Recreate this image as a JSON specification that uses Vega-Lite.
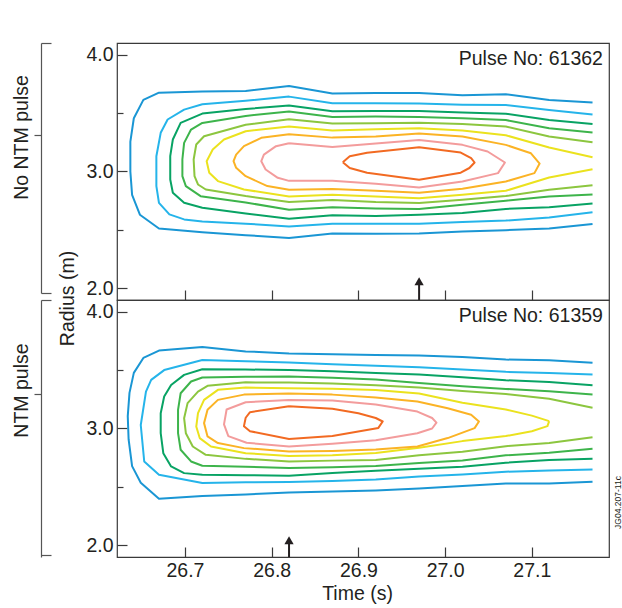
{
  "$schema": "https://vega.github.io/schema/vega-lite/v6.json",
  "padding": {"left": 10, "top": 41, "right": 2, "bottom": 52},
  "bounds": "flush",
  "spacing": 0,
  "config": {
    "view": {"stroke": "#3a3a3a", "strokeWidth": 1.2},
    "font": "Liberation Sans",
    "axis": {"labelFont": "Liberation Sans", "titleFont": "Liberation Sans", "labelFontSize": 19.5, "titleFontSize": 19.5, "labelColor": "#231f20", "titleColor": "#231f20", "titleFontWeight": "normal", "tickColor": "#3a3a3a", "tickWidth": 1.2, "domainColor": "#555555", "grid": false}
  },
  "datasets": {
    "arrows": [{"p": "top", "t": 26.97}, {"p": "bot", "t": 26.82}],
    "labels": [{"p": "top", "label": "Pulse No: 61362"}, {"p": "bot", "label": "Pulse No: 61359"}],
    "top": [
      {"c":"b1","t":27.17,"r":3.59},{"c":"b1","t":27.12,"r":3.612},{"c":"b1","t":27.07,"r":3.661},{"c":"b1","t":27.02,"r":3.652},{"c":"b1","t":26.97,"r":3.672},{"c":"b1","t":26.92,"r":3.672},{"c":"b1","t":26.87,"r":3.667},{"c":"b1","t":26.82,"r":3.732},{"c":"b1","t":26.77,"r":3.69},{"c":"b1","t":26.72,"r":3.684},{"c":"b1","t":26.67,"r":3.675},{"c":"b1","t":26.652,"r":3.613},{"c":"b1","t":26.641,"r":3.456},{"c":"b1","t":26.637,"r":3.256},{"c":"b1","t":26.637,"r":3.0},{"c":"b1","t":26.639,"r":2.8},{"c":"b1","t":26.648,"r":2.63},{"c":"b1","t":26.67,"r":2.512},{"c":"b1","t":26.72,"r":2.48},{"c":"b1","t":26.77,"r":2.455},{"c":"b1","t":26.82,"r":2.43},{"c":"b1","t":26.87,"r":2.47},{"c":"b1","t":26.92,"r":2.468},{"c":"b1","t":26.97,"r":2.47},{"c":"b1","t":27.02,"r":2.487},{"c":"b1","t":27.07,"r":2.498},{"c":"b1","t":27.12,"r":2.512},{"c":"b1","t":27.17,"r":2.55},
      {"c":"b2","t":27.17,"r":3.487},{"c":"b2","t":27.12,"r":3.527},{"c":"b2","t":27.07,"r":3.57},{"c":"b2","t":27.02,"r":3.572},{"c":"b2","t":26.97,"r":3.582},{"c":"b2","t":26.92,"r":3.584},{"c":"b2","t":26.87,"r":3.584},{"c":"b2","t":26.82,"r":3.641},{"c":"b2","t":26.77,"r":3.605},{"c":"b2","t":26.72,"r":3.576},{"c":"b2","t":26.699,"r":3.53},{"c":"b2","t":26.68,"r":3.445},{"c":"b2","t":26.672,"r":3.331},{"c":"b2","t":26.667,"r":3.131},{"c":"b2","t":26.667,"r":2.875},{"c":"b2","t":26.67,"r":2.732},{"c":"b2","t":26.682,"r":2.633},{"c":"b2","t":26.699,"r":2.59},{"c":"b2","t":26.72,"r":2.573},{"c":"b2","t":26.77,"r":2.553},{"c":"b2","t":26.82,"r":2.53},{"c":"b2","t":26.87,"r":2.552},{"c":"b2","t":26.92,"r":2.553},{"c":"b2","t":26.97,"r":2.553},{"c":"b2","t":27.02,"r":2.567},{"c":"b2","t":27.07,"r":2.58},{"c":"b2","t":27.12,"r":2.607},{"c":"b2","t":27.17,"r":2.652},
      {"c":"g1","t":27.17,"r":3.407},{"c":"g1","t":27.12,"r":3.441},{"c":"g1","t":27.07,"r":3.495},{"c":"g1","t":27.02,"r":3.506},{"c":"g1","t":26.97,"r":3.517},{"c":"g1","t":26.92,"r":3.518},{"c":"g1","t":26.87,"r":3.515},{"c":"g1","t":26.82,"r":3.564},{"c":"g1","t":26.77,"r":3.535},{"c":"g1","t":26.72,"r":3.496},{"c":"g1","t":26.695,"r":3.416},{"c":"g1","t":26.686,"r":3.274},{"c":"g1","t":26.683,"r":3.131},{"c":"g1","t":26.683,"r":2.932},{"c":"g1","t":26.686,"r":2.818},{"c":"g1","t":26.699,"r":2.732},{"c":"g1","t":26.72,"r":2.69},{"c":"g1","t":26.77,"r":2.64},{"c":"g1","t":26.82,"r":2.595},{"c":"g1","t":26.87,"r":2.625},{"c":"g1","t":26.92,"r":2.62},{"c":"g1","t":26.97,"r":2.63},{"c":"g1","t":27.02,"r":2.644},{"c":"g1","t":27.07,"r":2.68},{"c":"g1","t":27.12,"r":2.695},{"c":"g1","t":27.17,"r":2.726},
      {"c":"g2","t":27.17,"r":3.333},{"c":"g2","t":27.12,"r":3.37},{"c":"g2","t":27.07,"r":3.44},{"c":"g2","t":27.02,"r":3.456},{"c":"g2","t":26.97,"r":3.467},{"c":"g2","t":26.92,"r":3.47},{"c":"g2","t":26.87,"r":3.466},{"c":"g2","t":26.82,"r":3.513},{"c":"g2","t":26.77,"r":3.476},{"c":"g2","t":26.72,"r":3.416},{"c":"g2","t":26.707,"r":3.359},{"c":"g2","t":26.699,"r":3.245},{"c":"g2","t":26.697,"r":3.103},{"c":"g2","t":26.697,"r":2.96},{"c":"g2","t":26.701,"r":2.875},{"c":"g2","t":26.718,"r":2.789},{"c":"g2","t":26.77,"r":2.735},{"c":"g2","t":26.82,"r":2.672},{"c":"g2","t":26.87,"r":2.695},{"c":"g2","t":26.92,"r":2.684},{"c":"g2","t":26.97,"r":2.68},{"c":"g2","t":27.02,"r":2.715},{"c":"g2","t":27.07,"r":2.75},{"c":"g2","t":27.12,"r":2.786},{"c":"g2","t":27.17,"r":2.803},
      {"c":"g3","t":27.17,"r":3.25},{"c":"g3","t":27.12,"r":3.299},{"c":"g3","t":27.07,"r":3.385},{"c":"g3","t":27.02,"r":3.407},{"c":"g3","t":26.97,"r":3.418},{"c":"g3","t":26.92,"r":3.413},{"c":"g3","t":26.87,"r":3.41},{"c":"g3","t":26.82,"r":3.447},{"c":"g3","t":26.77,"r":3.4},{"c":"g3","t":26.722,"r":3.302},{"c":"g3","t":26.713,"r":3.231},{"c":"g3","t":26.71,"r":3.103},{"c":"g3","t":26.711,"r":2.96},{"c":"g3","t":26.715,"r":2.889},{"c":"g3","t":26.724,"r":2.846},{"c":"g3","t":26.77,"r":2.79},{"c":"g3","t":26.82,"r":2.738},{"c":"g3","t":26.87,"r":2.755},{"c":"g3","t":26.92,"r":2.738},{"c":"g3","t":26.97,"r":2.73},{"c":"g3","t":27.02,"r":2.758},{"c":"g3","t":27.07,"r":2.79},{"c":"g3","t":27.12,"r":2.843},{"c":"g3","t":27.17,"r":2.883},
      {"c":"y1","t":27.17,"r":3.122},{"c":"y1","t":27.12,"r":3.205},{"c":"y1","t":27.07,"r":3.31},{"c":"y1","t":27.02,"r":3.35},{"c":"y1","t":26.97,"r":3.37},{"c":"y1","t":26.92,"r":3.362},{"c":"y1","t":26.87,"r":3.35},{"c":"y1","t":26.82,"r":3.385},{"c":"y1","t":26.77,"r":3.345},{"c":"y1","t":26.745,"r":3.274},{"c":"y1","t":26.732,"r":3.188},{"c":"y1","t":26.725,"r":3.088},{"c":"y1","t":26.728,"r":2.989},{"c":"y1","t":26.738,"r":2.918},{"c":"y1","t":26.768,"r":2.846},{"c":"y1","t":26.82,"r":2.786},{"c":"y1","t":26.87,"r":2.8},{"c":"y1","t":26.92,"r":2.786},{"c":"y1","t":26.97,"r":2.772},{"c":"y1","t":27.02,"r":2.8},{"c":"y1","t":27.07,"r":2.835},{"c":"y1","t":27.12,"r":2.948},{"c":"y1","t":27.17,"r":3.02},
      {"c":"y2","t":27.07,"r":3.228},{"c":"y2","t":27.02,"r":3.299},{"c":"y2","t":26.97,"r":3.325},{"c":"y2","t":26.92,"r":3.3},{"c":"y2","t":26.87,"r":3.29},{"c":"y2","t":26.82,"r":3.319},{"c":"y2","t":26.788,"r":3.288},{"c":"y2","t":26.768,"r":3.217},{"c":"y2","t":26.759,"r":3.145},{"c":"y2","t":26.756,"r":3.088},{"c":"y2","t":26.759,"r":3.032},{"c":"y2","t":26.77,"r":2.96},{"c":"y2","t":26.795,"r":2.875},{"c":"y2","t":26.82,"r":2.843},{"c":"y2","t":26.87,"r":2.85},{"c":"y2","t":26.92,"r":2.835},{"c":"y2","t":26.97,"r":2.818},{"c":"y2","t":27.02,"r":2.852},{"c":"y2","t":27.07,"r":2.914},{"c":"y2","t":27.103,"r":2.986},{"c":"y2","t":27.109,"r":3.068},{"c":"y2","t":27.099,"r":3.156},{"c":"y2","t":27.07,"r":3.228},
      {"c":"p1","t":26.82,"r":3.242},{"c":"p1","t":26.87,"r":3.21},{"c":"p1","t":26.92,"r":3.24},{"c":"p1","t":26.97,"r":3.27},{"c":"p1","t":27.02,"r":3.228},{"c":"p1","t":27.049,"r":3.171},{"c":"p1","t":27.069,"r":3.077},{"c":"p1","t":27.061,"r":2.986},{"c":"p1","t":27.02,"r":2.914},{"c":"p1","t":26.97,"r":2.863},{"c":"p1","t":26.92,"r":2.895},{"c":"p1","t":26.87,"r":2.92},{"c":"p1","t":26.82,"r":2.92},{"c":"p1","t":26.807,"r":2.946},{"c":"p1","t":26.793,"r":3.017},{"c":"p1","t":26.788,"r":3.088},{"c":"p1","t":26.791,"r":3.145},{"c":"p1","t":26.805,"r":3.217},{"c":"p1","t":26.82,"r":3.242},
      {"c":"o1","t":26.882,"r":3.08},{"c":"o1","t":26.89,"r":3.13},{"c":"o1","t":26.91,"r":3.16},{"c":"o1","t":26.97,"r":3.208},{"c":"o1","t":27.018,"r":3.162},{"c":"o1","t":27.03,"r":3.115},{"c":"o1","t":27.034,"r":3.077},{"c":"o1","t":27.028,"r":3.03},{"c":"o1","t":27.018,"r":2.99},{"c":"o1","t":26.97,"r":2.93},{"c":"o1","t":26.91,"r":2.99},{"c":"o1","t":26.89,"r":3.03},{"c":"o1","t":26.882,"r":3.08}
    ],
    "bot": [
      {"c":"b1","t":27.17,"r":3.562},{"c":"b1","t":27.12,"r":3.584},{"c":"b1","t":27.07,"r":3.59},{"c":"b1","t":27.02,"r":3.613},{"c":"b1","t":26.97,"r":3.624},{"c":"b1","t":26.92,"r":3.63},{"c":"b1","t":26.87,"r":3.635},{"c":"b1","t":26.82,"r":3.643},{"c":"b1","t":26.77,"r":3.66},{"c":"b1","t":26.72,"r":3.698},{"c":"b1","t":26.67,"r":3.667},{"c":"b1","t":26.652,"r":3.604},{"c":"b1","t":26.641,"r":3.476},{"c":"b1","t":26.636,"r":3.305},{"c":"b1","t":26.634,"r":3.106},{"c":"b1","t":26.635,"r":2.906},{"c":"b1","t":26.639,"r":2.678},{"c":"b1","t":26.649,"r":2.536},{"c":"b1","t":26.67,"r":2.399},{"c":"b1","t":26.72,"r":2.422},{"c":"b1","t":26.77,"r":2.435},{"c":"b1","t":26.82,"r":2.452},{"c":"b1","t":26.87,"r":2.46},{"c":"b1","t":26.92,"r":2.47},{"c":"b1","t":26.97,"r":2.487},{"c":"b1","t":27.02,"r":2.508},{"c":"b1","t":27.07,"r":2.53},{"c":"b1","t":27.12,"r":2.53},{"c":"b1","t":27.17,"r":2.544},
      {"c":"b2","t":27.17,"r":3.462},{"c":"b2","t":27.12,"r":3.476},{"c":"b2","t":27.07,"r":3.485},{"c":"b2","t":27.02,"r":3.505},{"c":"b2","t":26.97,"r":3.525},{"c":"b2","t":26.92,"r":3.537},{"c":"b2","t":26.87,"r":3.55},{"c":"b2","t":26.82,"r":3.565},{"c":"b2","t":26.77,"r":3.575},{"c":"b2","t":26.72,"r":3.587},{"c":"b2","t":26.676,"r":3.5},{"c":"b2","t":26.661,"r":3.416},{"c":"b2","t":26.655,"r":3.316},{"c":"b2","t":26.649,"r":3.03},{"c":"b2","t":26.653,"r":2.718},{"c":"b2","t":26.67,"r":2.604},{"c":"b2","t":26.72,"r":2.533},{"c":"b2","t":26.77,"r":2.54},{"c":"b2","t":26.82,"r":2.541},{"c":"b2","t":26.87,"r":2.55},{"c":"b2","t":26.92,"r":2.564},{"c":"b2","t":26.97,"r":2.59},{"c":"b2","t":27.02,"r":2.607},{"c":"b2","t":27.07,"r":2.63},{"c":"b2","t":27.12,"r":2.641},{"c":"b2","t":27.17,"r":2.65},
      {"c":"g1","t":27.17,"r":3.371},{"c":"g1","t":27.12,"r":3.399},{"c":"g1","t":27.07,"r":3.413},{"c":"g1","t":27.02,"r":3.439},{"c":"g1","t":26.97,"r":3.462},{"c":"g1","t":26.92,"r":3.476},{"c":"g1","t":26.87,"r":3.49},{"c":"g1","t":26.82,"r":3.5},{"c":"g1","t":26.77,"r":3.505},{"c":"g1","t":26.72,"r":3.507},{"c":"g1","t":26.699,"r":3.459},{"c":"g1","t":26.684,"r":3.373},{"c":"g1","t":26.676,"r":3.274},{"c":"g1","t":26.672,"r":3.131},{"c":"g1","t":26.672,"r":2.96},{"c":"g1","t":26.675,"r":2.789},{"c":"g1","t":26.684,"r":2.675},{"c":"g1","t":26.699,"r":2.618},{"c":"g1","t":26.72,"r":2.604},{"c":"g1","t":26.77,"r":2.6},{"c":"g1","t":26.82,"r":2.595},{"c":"g1","t":26.87,"r":2.62},{"c":"g1","t":26.92,"r":2.638},{"c":"g1","t":26.97,"r":2.656},{"c":"g1","t":27.02,"r":2.673},{"c":"g1","t":27.07,"r":2.707},{"c":"g1","t":27.12,"r":2.73},{"c":"g1","t":27.17,"r":2.741},
      {"c":"g2","t":27.17,"r":3.291},{"c":"g2","t":27.12,"r":3.319},{"c":"g2","t":27.07,"r":3.339},{"c":"g2","t":27.02,"r":3.362},{"c":"g2","t":26.97,"r":3.39},{"c":"g2","t":26.92,"r":3.42},{"c":"g2","t":26.87,"r":3.435},{"c":"g2","t":26.82,"r":3.445},{"c":"g2","t":26.77,"r":3.443},{"c":"g2","t":26.72,"r":3.436},{"c":"g2","t":26.707,"r":3.402},{"c":"g2","t":26.695,"r":3.302},{"c":"g2","t":26.692,"r":3.16},{"c":"g2","t":26.692,"r":2.96},{"c":"g2","t":26.695,"r":2.818},{"c":"g2","t":26.707,"r":2.718},{"c":"g2","t":26.72,"r":2.681},{"c":"g2","t":26.77,"r":2.672},{"c":"g2","t":26.82,"r":2.661},{"c":"g2","t":26.87,"r":2.668},{"c":"g2","t":26.92,"r":2.678},{"c":"g2","t":26.97,"r":2.705},{"c":"g2","t":27.02,"r":2.727},{"c":"g2","t":27.07,"r":2.77},{"c":"g2","t":27.12,"r":2.792},{"c":"g2","t":27.17,"r":2.827},
      {"c":"g3","t":27.17,"r":3.177},{"c":"g3","t":27.12,"r":3.254},{"c":"g3","t":27.07,"r":3.295},{"c":"g3","t":27.02,"r":3.32},{"c":"g3","t":26.97,"r":3.35},{"c":"g3","t":26.92,"r":3.37},{"c":"g3","t":26.87,"r":3.385},{"c":"g3","t":26.82,"r":3.393},{"c":"g3","t":26.77,"r":3.395},{"c":"g3","t":26.726,"r":3.365},{"c":"g3","t":26.715,"r":3.316},{"c":"g3","t":26.703,"r":3.217},{"c":"g3","t":26.699,"r":3.088},{"c":"g3","t":26.701,"r":2.96},{"c":"g3","t":26.709,"r":2.846},{"c":"g3","t":26.724,"r":2.775},{"c":"g3","t":26.77,"r":2.74},{"c":"g3","t":26.82,"r":2.718},{"c":"g3","t":26.87,"r":2.725},{"c":"g3","t":26.92,"r":2.73},{"c":"g3","t":26.97,"r":2.77},{"c":"g3","t":27.02,"r":2.8},{"c":"g3","t":27.07,"r":2.849},{"c":"g3","t":27.12,"r":2.875},{"c":"g3","t":27.17,"r":2.926},
      {"c":"y1","t":27.12,"r":3.063},{"c":"y1","t":27.1,"r":3.11},{"c":"y1","t":27.07,"r":3.163},{"c":"y1","t":27.02,"r":3.22},{"c":"y1","t":26.97,"r":3.3},{"c":"y1","t":26.92,"r":3.33},{"c":"y1","t":26.87,"r":3.34},{"c":"y1","t":26.82,"r":3.345},{"c":"y1","t":26.77,"r":3.35},{"c":"y1","t":26.738,"r":3.331},{"c":"y1","t":26.722,"r":3.245},{"c":"y1","t":26.715,"r":3.131},{"c":"y1","t":26.713,"r":3.017},{"c":"y1","t":26.717,"r":2.918},{"c":"y1","t":26.73,"r":2.846},{"c":"y1","t":26.77,"r":2.789},{"c":"y1","t":26.82,"r":2.765},{"c":"y1","t":26.87,"r":2.77},{"c":"y1","t":26.92,"r":2.79},{"c":"y1","t":26.97,"r":2.835},{"c":"y1","t":27.02,"r":2.892},{"c":"y1","t":27.07,"r":2.935},{"c":"y1","t":27.1,"r":2.977},{"c":"y1","t":27.118,"r":3.02},{"c":"y1","t":27.12,"r":3.063},
      {"c":"y2","t":26.82,"r":3.3},{"c":"y2","t":26.87,"r":3.29},{"c":"y2","t":26.92,"r":3.265},{"c":"y2","t":26.968,"r":3.231},{"c":"y2","t":27.003,"r":3.174},{"c":"y2","t":27.03,"r":3.117},{"c":"y2","t":27.039,"r":3.06},{"c":"y2","t":27.034,"r":3.003},{"c":"y2","t":27.003,"r":2.918},{"c":"y2","t":26.968,"r":2.846},{"c":"y2","t":26.92,"r":2.82},{"c":"y2","t":26.87,"r":2.808},{"c":"y2","t":26.82,"r":2.804},{"c":"y2","t":26.768,"r":2.832},{"c":"y2","t":26.738,"r":2.875},{"c":"y2","t":26.726,"r":2.932},{"c":"y2","t":26.722,"r":3.046},{"c":"y2","t":26.726,"r":3.16},{"c":"y2","t":26.738,"r":3.245},{"c":"y2","t":26.768,"r":3.29},{"c":"y2","t":26.82,"r":3.3},
      {"c":"p1","t":26.82,"r":3.245},{"c":"p1","t":26.87,"r":3.24},{"c":"p1","t":26.92,"r":3.205},{"c":"p1","t":26.968,"r":3.145},{"c":"p1","t":26.985,"r":3.09},{"c":"p1","t":26.99,"r":3.05},{"c":"p1","t":26.985,"r":3.0},{"c":"p1","t":26.968,"r":2.96},{"c":"p1","t":26.92,"r":2.9},{"c":"p1","t":26.87,"r":2.87},{"c":"p1","t":26.82,"r":2.846},{"c":"p1","t":26.771,"r":2.878},{"c":"p1","t":26.75,"r":2.935},{"c":"p1","t":26.745,"r":3.035},{"c":"p1","t":26.748,"r":3.163},{"c":"p1","t":26.77,"r":3.225},{"c":"p1","t":26.82,"r":3.245},
      {"c":"o1","t":26.82,"r":3.19},{"c":"o1","t":26.87,"r":3.17},{"c":"o1","t":26.9,"r":3.13},{"c":"o1","t":26.92,"r":3.09},{"c":"o1","t":26.928,"r":3.06},{"c":"o1","t":26.923,"r":3.005},{"c":"o1","t":26.87,"r":2.935},{"c":"o1","t":26.82,"r":2.91},{"c":"o1","t":26.775,"r":2.977},{"c":"o1","t":26.768,"r":3.02},{"c":"o1","t":26.77,"r":3.092},{"c":"o1","t":26.775,"r":3.14},{"c":"o1","t":26.82,"r":3.19}
    ]
  },
  "vconcat": [
    {
      "width": 492,
      "height": 257,
      "layer": [
        {
          "data": {"name": "top"},
          "mark": {"type": "line", "strokeWidth": 2, "strokeJoin": "round"},
          "encoding": {
            "x": {"field": "t", "type": "quantitative", "scale": {"domain": [26.6216, 27.189], "nice": false, "zero": false},
              "axis": {"orient": "bottom", "values": [26.7, 26.8, 26.9, 27.0, 27.1], "labels": false, "domain": false, "tickSize": -10, "title": null}},
            "y": {"field": "r", "type": "quantitative", "scale": {"domain": [1.9, 4.1], "nice": false, "zero": false},
              "axis": {"orient": "left", "values": [2, 2.5, 3, 3.5, 4], "labelExpr": "datum.value % 1 === 0 ? format(datum.value, '.1f') : ''", "tickSize": {"condition": {"test": "datum.value % 1 === 0", "value": -10}, "value": -6}, "labelPadding": 14, "domain": false, "title": "Radius (m)", "titleX": -50, "titleY": 255, "titleAlign": "center", "titleBaseline": "middle"}},
            "color": {"field": "c", "type": "nominal", "legend": null,
              "scale": {"domain": ["b1","b2","g1","g2","g3","y1","y2","p1","o1"], "range": ["#1a96d4","#25b4ea","#08a364","#3db44b","#8cc63f","#ebe21e","#fbb325","#f39c9c","#f26a22"]}},
            "order": {"value": null}
          }
        },
        {
          "data": {"name": "arrows"},
          "transform": [{"filter": "datum.p === 'top'"}],
          "mark": {"type": "rule", "strokeWidth": 2, "color": "#231f20"},
          "encoding": {
            "x": {"field": "t", "type": "quantitative"},
            "y": {"datum": 1.9, "type": "quantitative",
              "axis": {"orient": "left", "offset": 76, "values": [4.1, 3.316, 1.962], "labels": false, "domain": true, "domainDash": [0, 7, 400], "domainWidth": 1.2, "tickSize": {"condition": {"test": "datum.value > 3.5 || datum.value < 2.5", "value": -10}, "value": 7}, "tickColor": "#555555", "title": "No NTM pulse", "titleX": -20, "titleY": 94, "titleAlign": "center", "titleBaseline": "middle"}},
            "y2": {"datum": 2.06}
          }
        },
        {
          "data": {"name": "arrows"},
          "transform": [{"filter": "datum.p === 'top'"}],
          "mark": {"type": "point", "shape": "triangle-up", "filled": true, "color": "#231f20", "size": 85, "opacity": 1},
          "encoding": {
            "x": {"field": "t", "type": "quantitative"},
            "y": {"datum": 2.06, "type": "quantitative", "axis": null}
          }
        },
        {
          "data": {"name": "labels"},
          "transform": [{"filter": "datum.p === 'top'"}],
          "mark": {"type": "text", "align": "right", "baseline": "alphabetic", "font": "Liberation Sans", "fontSize": 19.5, "color": "#231f20"},
          "encoding": {
            "x": {"datum": 27.182, "type": "quantitative"},
            "y": {"datum": 3.914, "type": "quantitative", "axis": null},
            "text": {"field": "label"}
          }
        }
      ],
      "resolve": {"axis": {"y": "independent"}}
    },
    {
      "width": 492,
      "height": 257,
      "layer": [
        {
          "data": {"name": "bot"},
          "mark": {"type": "line", "strokeWidth": 2, "strokeJoin": "round"},
          "encoding": {
            "x": {"field": "t", "type": "quantitative", "scale": {"domain": [26.6216, 27.189], "nice": false, "zero": false},
              "axis": {"orient": "bottom", "values": [26.7, 26.8, 26.9, 27.0, 27.1], "format": ".1f", "labelPadding": 14, "domain": false, "tickSize": -10, "title": "Time (s)", "titleX": 240, "titleY": 42, "titleAlign": "center", "titleBaseline": "alphabetic"}},
            "y": {"field": "r", "type": "quantitative", "scale": {"domain": [1.9, 4.1], "nice": false, "zero": false},
              "axis": {"orient": "left", "values": [2, 2.5, 3, 3.5, 4], "labelExpr": "datum.value % 1 === 0 ? format(datum.value, '.1f') : ''", "tickSize": {"condition": {"test": "datum.value % 1 === 0", "value": -10}, "value": -6}, "labelPadding": 14, "domain": false, "title": null}},
            "color": {"field": "c", "type": "nominal", "legend": null,
              "scale": {"domain": ["b1","b2","g1","g2","g3","y1","y2","p1","o1"], "range": ["#1a96d4","#25b4ea","#08a364","#3db44b","#8cc63f","#ebe21e","#fbb325","#f39c9c","#f26a22"]}},
            "order": {"value": null}
          }
        },
        {
          "data": {"name": "arrows"},
          "transform": [{"filter": "datum.p === 'bot'"}],
          "mark": {"type": "rule", "strokeWidth": 2, "color": "#231f20"},
          "encoding": {
            "x": {"field": "t", "type": "quantitative"},
            "y": {"datum": 1.9, "type": "quantitative",
              "axis": {"orient": "left", "offset": 76, "values": [4.1, 3.299, 1.92], "labels": false, "domain": true, "domainWidth": 1.2, "tickSize": {"condition": {"test": "datum.value > 3.5 || datum.value < 2.5", "value": -10}, "value": 7}, "tickColor": "#555555", "title": "NTM pulse", "titleX": -20, "titleY": 90, "titleAlign": "center", "titleBaseline": "middle"}},
            "y2": {"datum": 2.043}
          }
        },
        {
          "data": {"name": "arrows"},
          "transform": [{"filter": "datum.p === 'bot'"}],
          "mark": {"type": "point", "shape": "triangle-up", "filled": true, "color": "#231f20", "size": 85, "opacity": 1},
          "encoding": {
            "x": {"field": "t", "type": "quantitative"},
            "y": {"datum": 2.043, "type": "quantitative",
              "axis": {"orient": "right", "ticks": false, "labels": false, "domain": false, "title": "JG04.207-11c", "titleFontSize": 8.5, "titleAngle": 270, "titleX": 8, "titleY": 202, "titleAlign": "center", "titleBaseline": "middle"}}
          }
        },
        {
          "data": {"name": "labels"},
          "transform": [{"filter": "datum.p === 'bot'"}],
          "mark": {"type": "text", "align": "right", "baseline": "alphabetic", "font": "Liberation Sans", "fontSize": 19.5, "color": "#231f20"},
          "encoding": {
            "x": {"datum": 27.182, "type": "quantitative"},
            "y": {"datum": 3.914, "type": "quantitative", "axis": null},
            "text": {"field": "label"}
          }
        }
      ],
      "resolve": {"axis": {"y": "independent"}}
    }
  ]
}
